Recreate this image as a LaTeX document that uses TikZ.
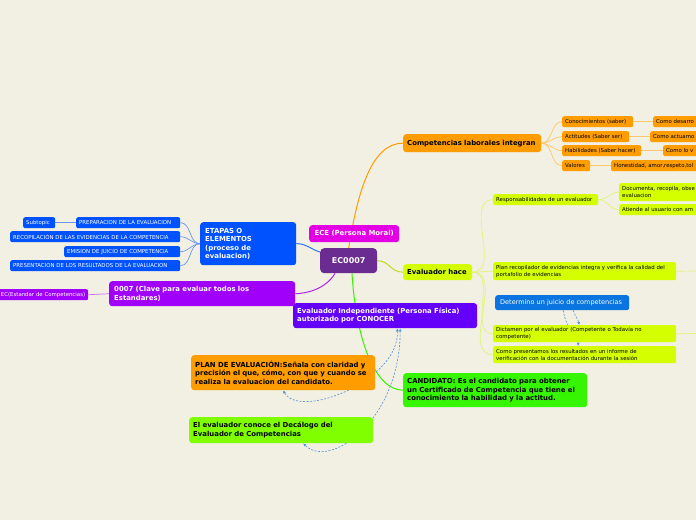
\documentclass[tikz,border=0pt]{standalone}
\usepackage{fontspec}
\setmainfont{DejaVu Sans}
\usetikzlibrary{arrows.meta}
\definecolor{bgc}{RGB}{242,239,227}
\definecolor{cEC}{RGB}{107,44,145}
\definecolor{cECE}{RGB}{228,0,228}
\definecolor{cOr}{RGB}{255,157,0}
\definecolor{cLime}{RGB}{212,255,0}
\definecolor{cDet}{RGB}{10,116,224}
\definecolor{cEI}{RGB}{100,0,250}
\definecolor{cCand}{RGB}{53,245,0}
\definecolor{cDec}{RGB}{128,255,0}
\definecolor{cEt}{RGB}{0,82,255}
\definecolor{cCl}{RGB}{160,0,250}
\definecolor{lOr}{RGB}{255,200,110}
\definecolor{lLime}{RGB}{225,245,120}
\definecolor{lBlue}{RGB}{110,150,245}
\definecolor{lPur}{RGB}{195,110,250}
\definecolor{dashc}{RGB}{80,145,215}
\pgfdeclarelayer{bg}\pgfdeclarelayer{back}\pgfsetlayers{bg,back,main}
\begin{document}
\begin{tikzpicture}[x=1pt,y=-1pt,
  box/.style={rectangle, anchor=north west, inner ysep=0pt, align=left},
  big/.style={box, font=\bfseries\fontsize{6.9}{8.5}\selectfont, inner xsep=4pt, rounded corners=3pt},
  small/.style={box, font=\fontsize{5.4}{7}\selectfont, inner xsep=3pt, rounded corners=2pt},
  conn/.style={line width=1pt},
  sconn/.style={line width=0.7pt},
  dsh/.style={draw=dashc, dashed, line width=0.6pt, dash pattern=on 2pt off 1.5pt},
  tip/.style={-{Latex[length=3pt,width=3pt]}},
  tips/.style={{Latex[length=3pt,width=3pt]}-{Latex[length=3pt,width=3pt]}}]
\useasboundingbox (0,0) rectangle (696,520);
\begin{pgfonlayer}{bg}
\fill[bgc] (0,0) rectangle (696,520);
\end{pgfonlayer}

% central
\node[big, fill=cEC, text=white, font=\bfseries\fontsize{8}{9}\selectfont, minimum width=57pt, minimum height=25pt, align=center, inner sep=0pt, rounded corners=4pt] (ec) at (320,248) {EC0007};
\node[big, fill=cECE, text=white, minimum width=90pt, minimum height=17pt, align=center, inner xsep=0pt] (ece) at (309,225) {ECE (Persona Moral)};

% competencias
\node[big, fill=cOr, minimum height=18pt, text width=130pt] (comp) at (403,134) {Competencias laborales integran};
\node[small, fill=cOr, minimum height=11pt, text width=65pt] (con) at (562,116) {Conocimientos (saber)};
\node[small, fill=cOr, minimum height=11pt, text width=80pt] (con2) at (653,116) {Como desarro};
\node[small, fill=cOr, minimum height=11pt, text width=61pt] (act) at (562,131) {Actitudes (Saber ser)};
\node[small, fill=cOr, minimum height=11pt, text width=80pt] (act2) at (650,131) {Como actuamo};
\node[small, fill=cOr, minimum height=11pt, text width=73pt] (hab) at (562,145) {Habilidades (Saber hacer)};
\node[small, fill=cOr, minimum height=11pt, text width=80pt] (hab2) at (663,145) {Como lo v};
\node[small, fill=cOr, minimum height=11pt, text width=22pt] (val) at (562,160) {Valores};
\node[small, fill=cOr, minimum height=11pt, text width=100pt] (val2) at (611,160) {Honestidad, amor,respeto,tol};

% evaluador hace
\node[big, fill=cLime, minimum height=16pt, text width=61pt] (evh) at (403,264) {Evaluador hace};
\node[small, fill=cLime, minimum height=11pt, text width=99pt] (resp) at (493,194) {Responsabilidades de un evaluador};
\node[small, fill=cLime, minimum height=18pt, text width=100pt] (doc) at (619,183) {Documenta, recopila, obse\\evaluacion};
\node[small, fill=cLime, minimum height=11pt, text width=100pt] (ati) at (619,204) {Atiende al usuario con am};
\node[small, fill=cLime, minimum height=18pt, text width=177pt] (plan) at (493,262) {Plan recopilador de evidencias integra y verifica la calidad del\\portafolio de evidencias};
\node[box, fill=cDet, text=white, font=\fontsize{6.5}{8}\selectfont, inner xsep=5pt, rounded corners=2.5pt, minimum height=15pt, text width=124pt] (det) at (495,295) {Determino un juicio de competencias};
\node[small, fill=cLime, minimum height=17pt, text width=177pt] (dic) at (493,325) {Dictamen por el evaluador (Competente o Todavía no\\competente)};
\node[small, fill=cLime, minimum height=17pt, text width=177pt] (como) at (493,346) {Como presentamos los resultados en un informe de\\verificación con la documentación durante la sesión};
\coordinate (planx) at (700,271);
\coordinate (dicx) at (700,333.5);

% other main topics
\node[big, fill=cEI, text=white, minimum height=25pt, text width=176pt] (ei) at (293,303) {Evaluador Independiente (Persona Física)\\autorizado por CONOCER};
\node[big, fill=cCand, minimum height=34pt, text width=176pt] (cand) at (403,373) {CANDIDATO: Es el candidato para obtener\\un Certificado de Competencia que tiene el\\conocimiento la habilidad y la actitud.};
\node[big, fill=cOr, minimum height=35pt, text width=176pt] (pe) at (191,355) {PLAN DE EVALUACIÓN:Señala con claridad y\\precisión el que, cómo, con que y cuando se\\realiza la evaluacion del candidato.};
\node[big, fill=cDec, minimum height=26pt, text width=176pt] (dec) at (189,417) {El evaluador conoce el Decálogo del\\Evaluador de Competencias};

% etapas
\node[big, fill=cEt, text=white, minimum height=43pt, text width=86pt, inner xsep=5pt] (et) at (200,222) {ETAPAS O\\ELEMENTOS\\(proceso de\\evaluacion)};
\node[small, fill=cEt, text=white, minimum height=11pt, text width=98pt] (prep) at (76,217) {PREPARACION DE LA EVALUACION};
\node[small, fill=cEt, text=white, minimum height=11pt, text width=26pt] (sub) at (23,217) {Subtopic};
\node[small, fill=cEt, text=white, minimum height=11pt, text width=164pt] (rec) at (10,231) {RECOPILACIÓN DE LAS EVIDENCIAS DE LA COMPETENCIA};
\node[small, fill=cEt, text=white, minimum height=11pt, text width=110pt] (emi) at (64,246) {EMISION DE JUICIO DE COMPETENCIA};
\node[small, fill=cEt, text=white, minimum height=11pt, text width=164pt] (pres) at (10,260) {PRESENTACION DE LOS RESULTADOS DE LA EVALUACION};

% clave
\node[big, fill=cCl, text=white, minimum height=25pt, text width=176pt, inner xsep=5pt] (clave) at (109,281) {0007 (Clave para evaluar todos los\\Estandares)};
\node[small, fill=cCl, text=white, minimum height=11pt, text width=90pt, align=right] (ecst) at (-8,289) {EC(Estandar de Competencias)};

\begin{pgfonlayer}{back}
% main branches
\draw[conn, draw=cOr] (ec.north) .. controls (358,190) and (372,143) .. (comp.west);
\draw[conn, draw=cLime!85!black!90] (ec.east) .. controls (390,261) and (390,272) .. (evh.west);
\draw[conn, draw=cEt!80] (et.east) .. controls (305,243) and (312,250) .. ([yshift=-4pt]ec.north west);
\draw[conn, draw=cCl!85] ([xshift=15pt]ec.south west) .. controls (325,290) and (305,293.5) .. (clave.east);
\draw[conn, draw=cCand] ([xshift=32pt]ec.south west) .. controls (356,340) and (375,390) .. (cand.west);
% competencias children
\foreach \n in {con,act,hab,val} \draw[sconn, draw=lOr] (comp.east) to[out=0,in=180] (\n.west);
\draw[sconn, draw=lOr] (con.east) -- (con2.west);
\draw[sconn, draw=lOr] (act.east) -- (act2.west);
\draw[sconn, draw=lOr] (hab.east) -- (hab2.west);
\draw[sconn, draw=lOr] (val.east) -- (val2.west);
% evaluador hace children
\foreach \n in {resp,plan,dic,como} \draw[sconn, draw=lLime] (evh.east) to[out=0,in=180] (\n.west);
\draw[sconn, draw=lLime] (resp.east) to[out=0,in=180] (doc.west);
\draw[sconn, draw=lLime] (resp.east) to[out=0,in=180] (ati.west);
\draw[sconn, draw=lLime] (plan.east) -- (planx);
\draw[sconn, draw=lLime] (dic.east) -- (dicx);
% etapas children
\foreach \n in {prep,rec,emi,pres} \draw[sconn, draw=lBlue] (et.west) to[out=180,in=0] (\n.east);
\draw[sconn, draw=lBlue] (prep.west) -- (sub.east);
\draw[sconn, draw=lPur] (clave.west) -- (ecst.east);
% dashed relations
\draw[dsh, tips] ([xshift=12pt]ei.south) .. controls (400,380) and (300,420) .. (pe.south);
\draw[dsh, tips] ([xshift=15pt]ei.south) .. controls (400,420) and (330,470) .. ([xshift=22pt]dec.south);
\draw[dsh, tip] ([xshift=11pt]det.south) .. controls (575,316) and (578,319) .. ([xshift=-5.5pt]dic.north);
\draw[dsh, tip] ([xshift=1pt]det.south) .. controls (566,330) and (578,335) .. ([xshift=-6.5pt]como.north);
\end{pgfonlayer}
\end{tikzpicture}
\end{document}
